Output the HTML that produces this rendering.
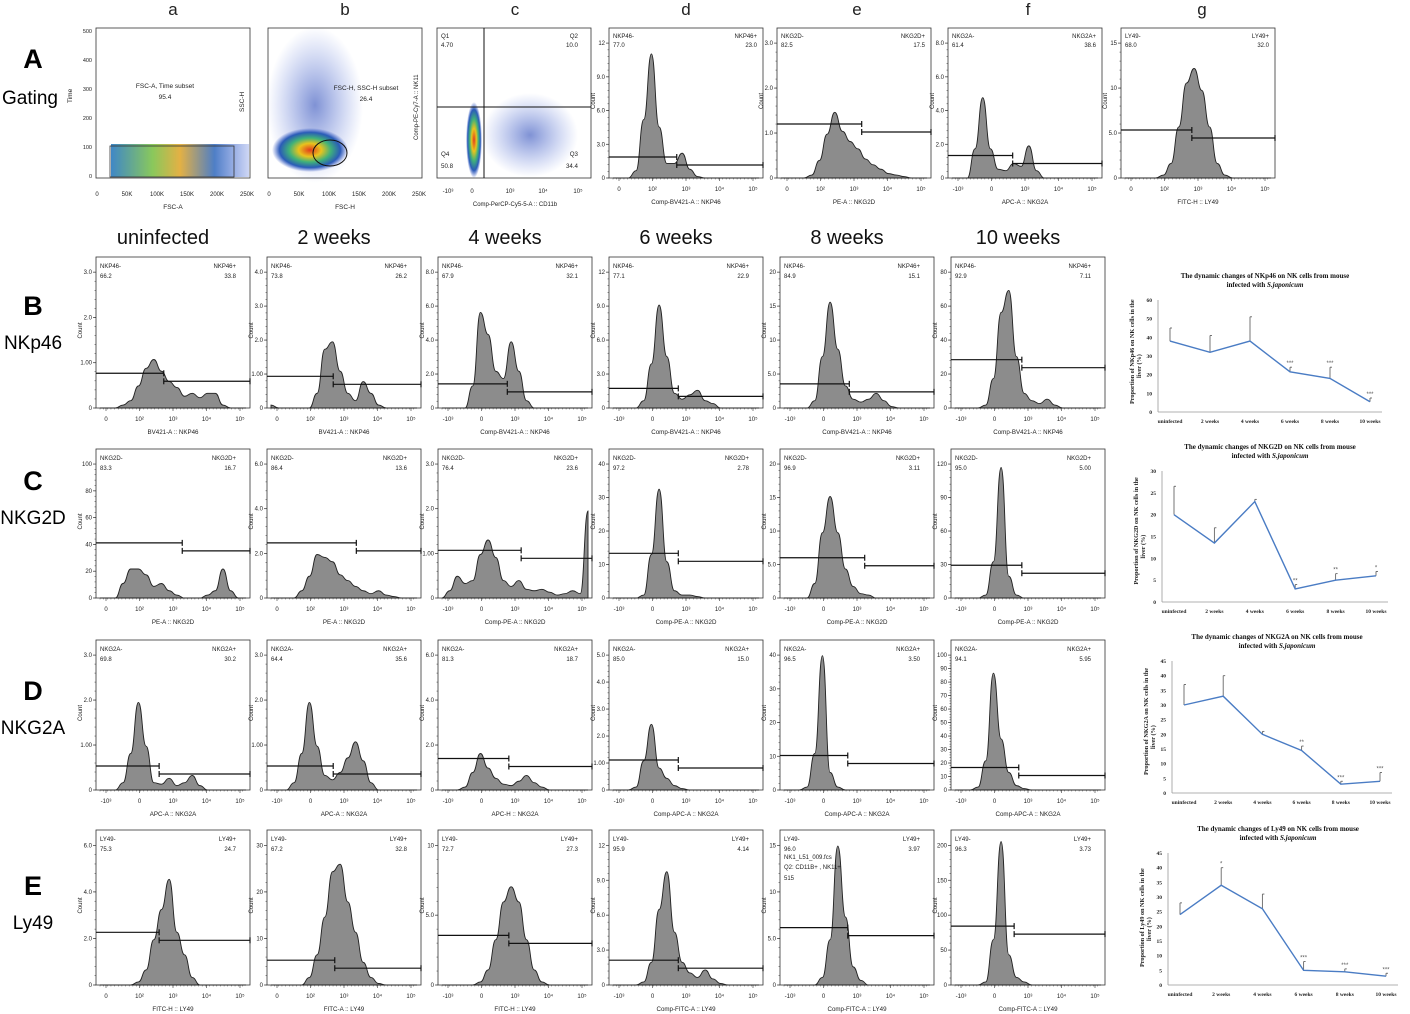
<!DOCTYPE html>
<html><head><meta charset="utf-8"><style>
body{margin:0;background:#fff;}
svg{display:block;font-family:"Liberation Sans",Arial,sans-serif;}
</style></head><body>
<svg id="fig" width="1410" height="1014" viewBox="0 0 1410 1014" xmlns="http://www.w3.org/2000/svg">
<defs>
<radialGradient id="heat" cx="50%" cy="50%" r="50%"><stop offset="0" stop-color="#e23b1c"/><stop offset="0.3" stop-color="#e9c31d"/><stop offset="0.55" stop-color="#3fb17a"/><stop offset="0.8" stop-color="#2a5bb8"/><stop offset="1" stop-color="#3a5bc8" stop-opacity="0"/></radialGradient>
<radialGradient id="blue" cx="50%" cy="50%" r="50%"><stop offset="0" stop-color="#2a49b8" stop-opacity="0.6"/><stop offset="1" stop-color="#4a6ad8" stop-opacity="0"/></radialGradient>
<linearGradient id="band" x1="0" x2="1" y1="0" y2="0"><stop offset="0" stop-color="#2a7ac0"/><stop offset="0.3" stop-color="#7cc24a"/><stop offset="0.5" stop-color="#e0a830"/><stop offset="0.75" stop-color="#3a70c0"/><stop offset="1" stop-color="#4a6ad8" stop-opacity="0.3"/></linearGradient>
</defs>
<g id="root"></g>
</svg>
<script>
// ---------- data ----------
const colLetters=['a','b','c','d','e','f','g'];
const weekHeaders=['uninfected','2 weeks','4 weeks','6 weeks','8 weeks','10 weeks'];
const rowLetters=['B','C','D','E'];
const rowNames=['NKp46','NKG2D','NKG2A','Ly49'];
const markerNeg=['NKP46-','NKG2D-','NKG2A-','LY49-'];
const markerPos=['NKP46+','NKG2D+','NKG2A+','LY49+'];
const negValues=[[66.2,73.8,67.9,77.1,84.9,92.9],[83.3,86.4,76.4,97.2,96.9,95.0],[69.8,64.4,81.3,85.0,96.5,94.1],[75.3,67.2,72.7,95.9,96.0,96.3]];
const posValues=[['33.8','26.2','32.1','22.9','15.1','7.11'],['16.7','13.6','23.6','2.78','3.11','5.00'],['30.2','35.6','18.7','15.0','3.50','5.95'],['24.7','32.8','27.3','4.14','3.97','3.73']];
const xAxisLabels=[
 ['BV421-A :: NKP46','BV421-A :: NKP46','Comp-BV421-A :: NKP46','Comp-BV421-A :: NKP46','Comp-BV421-A :: NKP46','Comp-BV421-A :: NKP46'],
 ['PE-A :: NKG2D','PE-A :: NKG2D','Comp-PE-A :: NKG2D','Comp-PE-A :: NKG2D','Comp-PE-A :: NKG2D','Comp-PE-A :: NKG2D'],
 ['APC-A :: NKG2A','APC-A :: NKG2A','APC-H :: NKG2A','Comp-APC-A :: NKG2A','Comp-APC-A :: NKG2A','Comp-APC-A :: NKG2A'],
 ['FITC-H :: LY49','FITC-A :: LY49','FITC-H :: LY49','Comp-FITC-A :: LY49','Comp-FITC-A :: LY49','Comp-FITC-A :: LY49']];
const yTickLabels=[
 [['0','1.00','2.0','3.0'],['0','1.00','2.0','3.0','4.0'],['0','2.0','4.0','6.0','8.0'],['0','3.0','6.0','9.0','12'],['0','5.0','10','15','20'],['0','20','40','60','80']],
 [['0','20','40','60','80','100'],['0','2.0','4.0','6.0'],['0','1.00','2.0','3.0'],['0','10','20','30','40'],['0','5.0','10','15','20'],['0','30','60','90','120']],
 [['0','1.00','2.0','3.0'],['0','1.00','2.0','3.0'],['0','2.0','4.0','6.0'],['0','1.00','2.0','3.0','4.0','5.0'],['0','10','20','30','40'],['0','10','20','30','40','50','60','70','80','90','100']],
 [['0','2.0','4.0','6.0'],['0','10','20','30'],['0','5.0','10'],['0','3.0','6.0','9.0','12'],['0','5.0','10','15'],['0','50','100','150','200']]];
const histB=[
 [0,0,0,0.02,0.05,0.15,0.27,0.33,0.25,0.18,0.14,0.08,0.1,0.07,0.1,0.1,0.02,0,0,0],
 [0.02,0,0,0,0,0,0.1,0.4,0.45,0.25,0.1,0.05,0.18,0.1,0.02,0,0,0,0,0],
 [0,0,0,0,0.15,0.65,0.5,0.25,0.2,0.45,0.25,0.05,0,0,0,0,0,0,0,0],
 [0,0,0,0,0.05,0.3,0.7,0.35,0.1,0.06,0.09,0.12,0.05,0.03,0,0,0,0,0,0],
 [0,0,0,0,0.05,0.35,0.72,0.4,0.15,0.06,0.04,0.06,0.1,0.05,0.01,0,0,0,0,0],
 [0,0,0,0,0.02,0.2,0.65,0.8,0.35,0.1,0.05,0.03,0.06,0.02,0,0,0,0,0,0]];
const histC=[
 [0,0,0,0.1,0.2,0.2,0.16,0.08,0.1,0.05,0.02,0,0,0,0.02,0.05,0.2,0.05,0,0],
 [0,0,0,0,0.05,0.15,0.3,0.28,0.25,0.16,0.12,0.08,0.05,0.03,0.05,0.02,0.01,0,0,0],
 [0,0.05,0.15,0.1,0.12,0.3,0.4,0.28,0.12,0.08,0.12,0.06,0.05,0.06,0.04,0.02,0.03,0.05,0.03,0.6],
 [0,0,0,0,0.02,0.3,0.75,0.25,0.05,0.02,0.02,0.01,0,0,0,0,0,0,0,0],
 [0,0,0,0,0.1,0.45,0.7,0.45,0.2,0.08,0.03,0.02,0,0,0,0,0,0,0,0],
 [0,0,0,0,0.02,0.25,0.9,0.15,0.02,0,0,0,0,0,0,0,0,0,0,0]];
const histD=[
 [0,0,0,0.05,0.25,0.6,0.3,0.05,0.04,0.08,0.03,0.05,0.1,0.03,0,0,0,0,0,0],
 [0,0,0,0.05,0.25,0.6,0.3,0.1,0.07,0.12,0.22,0.33,0.2,0.05,0,0,0,0,0,0],
 [0,0,0,0.02,0.12,0.25,0.15,0.08,0.04,0.03,0.06,0.1,0.05,0.02,0,0,0,0,0,0],
 [0,0,0,0.02,0.2,0.45,0.15,0.08,0.03,0.01,0,0,0,0,0,0,0,0,0,0],
 [0,0,0,0.02,0.25,0.92,0.12,0.02,0,0,0,0,0,0,0,0,0,0,0,0],
 [0,0,0,0.02,0.2,0.8,0.35,0.12,0.03,0.01,0,0,0,0,0,0,0,0,0,0]];
const histE=[
 [0,0,0,0,0,0.02,0.1,0.3,0.5,0.7,0.35,0.2,0.05,0,0,0,0,0,0,0],
 [0,0,0,0,0,0.05,0.2,0.45,0.75,0.8,0.55,0.35,0.15,0.05,0.01,0,0,0,0,0],
 [0,0,0,0,0,0.02,0.1,0.3,0.55,0.65,0.55,0.3,0.1,0.02,0,0,0,0,0,0],
 [0,0,0,0,0.02,0.15,0.5,0.75,0.35,0.15,0.08,0.05,0.1,0.04,0.01,0,0,0,0,0],
 [0,0,0,0,0,0.05,0.3,0.92,0.45,0.12,0.03,0,0,0,0,0,0,0,0,0],
 [0,0,0,0,0.02,0.3,0.95,0.2,0.05,0.02,0,0,0,0,0,0,0,0,0,0]];
const histA=[
 [0,0,0,0.05,0.4,0.85,0.35,0.1,0.1,0.17,0.06,0.01,0,0,0,0,0,0,0,0],
 [0,0,0,0,0.02,0.12,0.3,0.45,0.32,0.25,0.2,0.13,0.09,0.06,0.03,0.02,0.01,0,0,0],
 [0,0,0,0.2,0.55,0.2,0.06,0.05,0.1,0.08,0.22,0.05,0,0,0,0,0,0,0,0],
 [0,0,0,0,0,0.02,0.1,0.35,0.65,0.75,0.6,0.35,0.1,0.02,0,0,0,0,0,0]];
const gateSplitA=[0.44,0.55,0.42,0.46];
const gateYA=[0.14,0.36,0.15,0.32];
const gateSplit=[[0.44,0.43,0.45,0.45,0.45,0.46],[0.56,0.58,0.54,0.45,0.55,0.46],[0.41,0.43,0.46,0.45,0.44,0.44],[0.41,0.44,0.46,0.45,0.44,0.41]];
const gateY=[[0.23,0.21,0.16,0.13,0.16,0.32],[0.37,0.37,0.32,0.3,0.27,0.22],[0.16,0.16,0.21,0.2,0.23,0.15],[0.34,0.16,0.32,0.16,0.37,0.38]];

const lcCats=['uninfected','2 weeks','4 weeks','6 weeks','8 weeks','10 weeks'];
const nkp46Mean=[38,32,38,21.5,18,5.5];
const nkp46Err=[7,9,13,2.5,6,2];
const nkg2dMean=[20,13.5,23,3,5,6];
const nkg2dErr=[6.5,3.5,0.5,1,1.5,1];
const nkg2aMean=[30,33,20,14.5,3,4];
const nkg2aErr=[7,7,1,1.5,1,3];
const ly49Mean=[24,34,26,5,4.5,3];
const ly49Err=[4,6,5,3,1,1];

// ---------- helpers ----------
const NS='http://www.w3.org/2000/svg';
const root=document.getElementById('root');
function el(tag,attrs,parent,txt){const e=document.createElementNS(NS,tag);for(const k in attrs)e.setAttribute(k,attrs[k]);if(txt!==undefined)e.textContent=txt;(parent||root).appendChild(e);return e;}
function txt(x,y,s,size,opts){opts=opts||{};const t=el('text',{x:x,y:y,'font-size':size,fill:opts.fill||'#222','text-anchor':opts.anchor||'start','font-weight':opts.weight||'normal','font-family':opts.family||'"Liberation Sans",Arial,sans-serif'},opts.parent,s);if(opts.rot)t.setAttribute('transform',`rotate(${opts.rot} ${x} ${y})`);if(opts.style)t.setAttribute('font-style',opts.style);return t;}

const colX=[96,267,438,609,780,951];
const PW=154;
const rowY=[[257,408],[449,598],[640,790],[830,985]];

function panelFrame(g,x,y0,y1,yTicks,xlab,xLabels){
  el('rect',{x:x,y:y0,width:PW,height:y1-y0,fill:'none',stroke:'#333','stroke-width':0.8},g);
  const n=yTicks.length;
  yTicks.forEach((t,i)=>{const y=y1-(y1-y0-8)*i/(n-1)*0.95;el('line',{x1:x-3,x2:x,y1:y,y2:y,stroke:'#333','stroke-width':0.7},g);txt(x-4,y+2,t,6,{anchor:'end',parent:g});});
  for(let i=0;i<(n-1)*5;i++){const y=y1-(y1-y0-8)*i/((n-1)*5)*0.95;el('line',{x1:x-1.5,x2:x,y1:y,y2:y,stroke:'#333','stroke-width':0.5},g);}
  txt(x-14,(y0+y1)/2+6,'Count',6,{rot:-90,parent:g});
  (xLabels||['0','10\u00b2','10\u00b3','10\u2074','10\u2075']).forEach((t,i,a)=>{const xx=x+10+(PW-20)*i/(a.length-1);txt(xx,y1+13,t,6,{anchor:'middle',parent:g});el('line',{x1:xx,x2:xx,y1:y1,y2:y1+3,stroke:'#333','stroke-width':0.6},g);});
  for(let i=0;i<40;i++){const xx=x+4+(PW-8)*i/40;el('line',{x1:xx,x2:xx,y1:y1,y2:y1+1.5,stroke:'#333','stroke-width':0.4},g);}
  txt(x+PW/2,y1+26,xlab,6.2,{anchor:'middle',parent:g});
}
function hist(g,x,y0,y1,vals){
  const h=y1-y0, n=vals.length;
  const px=i=>x+4+(PW-8)*i/(n-1);
  const py=v=>y1-v*h;
  let d=`M${px(0)},${y1} L${px(0)},${py(vals[0])}`;
  for(let i=0;i<n-1;i++){const xa=px(i),xb=px(i+1),ya=py(vals[i]),yb=py(vals[i+1]);const mx=(xa+xb)/2;d+=` C${mx},${ya} ${mx},${yb} ${xb},${yb}`;}
  d+=` L${px(n-1)},${y1} Z`;
  const p=el('path',{d:d,fill:'#8c8c8c',stroke:'#222','stroke-width':0.9},g);
  
  
}
function gates(g,x,y0,y1,split,gy){
  const h=y1-y0;
  const yl=y1-gy*h, yr=yl+8;
  const xs=x+PW*split;
  el('line',{x1:x,x2:xs,y1:yl,y2:yl,stroke:'#111','stroke-width':1.2},g);
  el('line',{x1:xs,x2:xs,y1:yl-3,y2:yl+3,stroke:'#111','stroke-width':1.2},g);
  el('line',{x1:xs,x2:x+PW,y1:yr,y2:yr,stroke:'#111','stroke-width':1.2},g);
  el('line',{x1:xs,x2:xs,y1:yr-3,y2:yr+3,stroke:'#111','stroke-width':1.2},g);
  el('line',{x1:x+PW,x2:x+PW,y1:yr-3,y2:yr+3,stroke:'#111','stroke-width':1.2},g);
}

// ---------- column letters & row labels ----------
colLetters.forEach((c,i)=>{const t=txt([173,345,515,686,857,1028,1202][i],15,c,17,{anchor:'middle'});});
txt(33,68,'A',27,{anchor:'middle',weight:'bold',fill:'#000'});
txt(30,104,'Gating',19,{anchor:'middle',fill:'#000'});
weekHeaders.forEach((w,i)=>{const t=txt(colX[i]+PW/2-10,244,w,20,{anchor:'middle',fill:'#111'});});
const rowLabelY=[315,490,700,895];
rowLetters.forEach((r,i)=>{txt(33,rowLabelY[i],r,27,{anchor:'middle',weight:'bold',fill:'#000'});txt(33,rowLabelY[i]+34,rowNames[i],19,{anchor:'middle',fill:'#000'});});

// ---------- gating row ----------
(function(){
  const y0=28,y1=178;
  let g=el('g',{});
  el('rect',{x:111,y:144,width:138,height:33,fill:'url(#band)',opacity:0.9},g);
  el('rect',{x:96,y:y0,width:PW,height:y1-y0,fill:'none',stroke:'#333','stroke-width':0.8},g);
  el('rect',{x:110,y:146,width:124,height:31,fill:'none',stroke:'#333','stroke-width':0.8},g);
  txt(165,88,'FSC-A, Time subset',6.5,{anchor:'middle',parent:g});txt(165,99,'95.4',6.5,{anchor:'middle',parent:g});
  ['0','50K','100K','150K','200K','250K'].forEach((t,i)=>txt(97+30*i,196,t,6,{anchor:'middle',parent:g}));
  txt(173,209,'FSC-A',6.5,{anchor:'middle',parent:g});txt(72,103,'Time',6.5,{rot:-90,parent:g});
  ['0','100','200','300','400','500'].forEach((t,i)=>txt(92,178-29*i,t,5.5,{anchor:'end',parent:g}));
  g=el('g',{});
  el('rect',{x:268,y:y0,width:PW,height:y1-y0,fill:'none',stroke:'#333','stroke-width':0.8},g);
  el('ellipse',{cx:315,cy:105,rx:48,ry:78,fill:'url(#blue)'},g);
  el('ellipse',{cx:310,cy:150,rx:38,ry:22,fill:'url(#heat)'},g);
  el('ellipse',{cx:330,cy:153,rx:17,ry:13,fill:'none',stroke:'#111','stroke-width':1},g);
  txt(366,90,'FSC-H, SSC-H subset',6.5,{anchor:'middle',parent:g});txt(366,101,'26.4',6.5,{anchor:'middle',parent:g});
  ['0','50K','100K','150K','200K','250K'].forEach((t,i)=>txt(269+30*i,196,t,6,{anchor:'middle',parent:g}));
  txt(345,209,'FSC-H',6.5,{anchor:'middle',parent:g});txt(244,112,'SSC-H',6.5,{rot:-90,parent:g});
  g=el('g',{});
  el('rect',{x:437,y:y0,width:PW,height:y1-y0,fill:'none',stroke:'#333','stroke-width':0.8},g);
  el('ellipse',{cx:474,cy:140,rx:8,ry:38,fill:'url(#heat)'},g);
  el('ellipse',{cx:530,cy:135,rx:48,ry:42,fill:'url(#blue)'},g);
  el('line',{x1:484,x2:484,y1:y0,y2:y1,stroke:'#111','stroke-width':1},g);
  el('line',{x1:437,x2:591,y1:107,y2:107,stroke:'#111','stroke-width':1},g);
  [['Q1',441,38],['4.70',441,47],['Q2',578,38],['10.0',578,47],['Q4',441,156],['50.8',441,168],['Q3',578,156],['34.4',578,168]].forEach(a=>txt(a[1],a[2],a[0],6.2,{anchor:a[1]>500?'end':'start',parent:g}));
  ['-10\u00b3','0','10\u00b3','10\u2074','10\u2075'].forEach((t,i)=>txt([448,472,510,543,578][i],193,t,6,{anchor:'middle',parent:g}));
  txt(515,206,'Comp-PerCP-Cy5-5-A :: CD11b',6,{anchor:'middle',parent:g});
  txt(418,140,'Comp-PE-Cy7-A :: NK11',6,{rot:-90,parent:g});
  const ax=[609,777,948,1121];
  const labsA=[['NKP46-','77.0','NKP46+','23.0','Comp-BV421-A :: NKP46',['0','3.0','6.0','9.0','12']],['NKG2D-','82.5','NKG2D+','17.5','PE-A :: NKG2D',['0','1.0','2.0','3.0']],['NKG2A-','61.4','NKG2A+','38.6','APC-A :: NKG2A',['0','2.0','4.0','6.0','8.0']],['LY49-','68.0','LY49+','32.0','FITC-H :: LY49',['0','5.0','10','15']]];
  ax.forEach((x,i)=>{
    const gg=el('g',{});
    const xl=i==2?['-10\u00b3','0','10\u00b3','10\u2074','10\u2075']:null;
    panelFrame(gg,x,y0,y1,labsA[i][5],labsA[i][4],xl);
    hist(gg,x,y0+4,y1,histA[i]);
    gates(gg,x,y0,y1,gateSplitA[i],gateYA[i]);
    txt(x+4,38,labsA[i][0],6,{parent:gg});txt(x+4,47,labsA[i][1],6,{parent:gg});
    txt(x+PW-6,38,labsA[i][2],6,{anchor:'end',parent:gg});txt(x+PW-6,47,labsA[i][3],6,{anchor:'end',parent:gg});
  });
})();

// ---------- rows B-E ----------
const allHist=[histB,histC,histD,histE];
for(let r=0;r<4;r++){
  for(let c=0;c<6;c++){
    const g=el('g',{});
    
    
    const x=colX[c],[y0,y1]=rowY[r];
    const xl=(c>=2||r==2)?['-10\u00b3','0','10\u00b3','10\u2074','10\u2075']:null;
    panelFrame(g,x,y0,y1,yTickLabels[r][c],xAxisLabels[r][c],xl);
    hist(g,x,y0+4,y1,allHist[r][c]);
    gates(g,x,y0,y1,gateSplit[r][c],gateY[r][c]);
    txt(x+4,y0+11,markerNeg[r],6,{parent:g});
    txt(x+4,y0+21,negValues[r][c].toFixed(1),6,{parent:g});
    txt(x+PW-14,y0+11,markerPos[r],6,{anchor:'end',parent:g});
    txt(x+PW-14,y0+21,posValues[r][c],6,{anchor:'end',parent:g});
    if(r==3&&c==4){txt(x+4,y0+29,'NK1_L51_009.fcs',6,{parent:g});txt(x+4,y0+39,'Q2: CD11B+ , NK11+',6,{parent:g});txt(x+4,y0+50,'515',6,{parent:g});}
  }
}

// ---------- line charts ----------
function lineChart(name,title1,title2,ylab,mean,err,ymax,ystep,box,stars){
  const g=el('g',{});
  const [x0,yt,x1,yb]=box;
  const tf='"Liberation Serif","Times New Roman",serif';
  txt((x0+x1)/2-5,yt-22,title1,7,{anchor:'middle',weight:'bold',family:tf,parent:g,fill:'#111'});
  const t2=txt((x0+x1)/2-5,yt-13,title2,7,{anchor:'middle',weight:'bold',family:tf,parent:g,fill:'#111'});
  el('tspan',{'font-style':'italic'},t2,'S.japonicum');
  const ys=v=>yb-(yb-yt)*v/ymax;
  const xs=i=>x0+12+(x1-x0-24)*i/(mean.length-1);
  el('line',{x1:x0,x2:x0,y1:yt,y2:yb,stroke:'#999','stroke-width':0.8},g);
  el('line',{x1:x0,x2:x1,y1:yb,y2:yb,stroke:'#999','stroke-width':0.8},g);
  for(let v=0;v<=ymax+0.001;v+=ystep){txt(x0-6,ys(v)+2,String(v),5.5,{anchor:'end',weight:'bold',family:tf,parent:g});}
  lcCats.forEach((c,i)=>txt(xs(i),yb+11,c,5.5,{anchor:'middle',weight:'bold',family:tf,parent:g}));
  txt(x0-24,(yt+yb)/2+48,ylab,6.2,{rot:-90,weight:'bold',family:tf,parent:g});
  txt(x0-17,(yt+yb)/2+22,'liver (%)',6.2,{rot:-90,weight:'bold',family:tf,parent:g});
  mean.forEach((m,i)=>{el('line',{x1:xs(i),x2:xs(i),y1:ys(m),y2:ys(m+err[i]),stroke:'#666','stroke-width':0.9},g);el('line',{x1:xs(i),x2:xs(i)+2,y1:ys(m+err[i]),y2:ys(m+err[i]),stroke:'#666','stroke-width':0.9},g);
    if(stars[i])txt(xs(i),ys(m+err[i])-2,stars[i],6,{anchor:'middle',fill:'#555',parent:g});});
  const pl=el('polyline',{points:mean.map((m,i)=>xs(i)+','+ys(m)).join(' '),fill:'none',stroke:'#4a7cc4','stroke-width':1.4},g);
  
  
}
lineChart('chart-nkp46','The dynamic changes of NKp46 on NK cells from mouse','infected with ','Proportion of NKp46 on NK cells in the',nkp46Mean,nkp46Err,60,10,[1158,300,1382,412],['','','','***','***','***']);
lineChart('chart-nkg2d','The dynamic changes of NKG2D on NK cells from mouse','infected with ','Proportion of NKG2D on NK cells in the',nkg2dMean,nkg2dErr,30,5,[1162,471,1388,602],['','','','**','**','*']);
lineChart('chart-nkg2a','The dynamic changes of NKG2A on NK cells from mouse','infected with ','Proportion of NKG2A on NK cells in the',nkg2aMean,nkg2aErr,45,5,[1172,661,1392,793],['','','','**','***','***']);
lineChart('chart-ly49','The dynamic changes of Ly49 on NK cells  from mouse','infected with ','Proportion of Ly49 on NK cells in the',ly49Mean,ly49Err,45,5,[1168,853,1398,985],['','*','','***','***','***']);
</script>
</body></html>
